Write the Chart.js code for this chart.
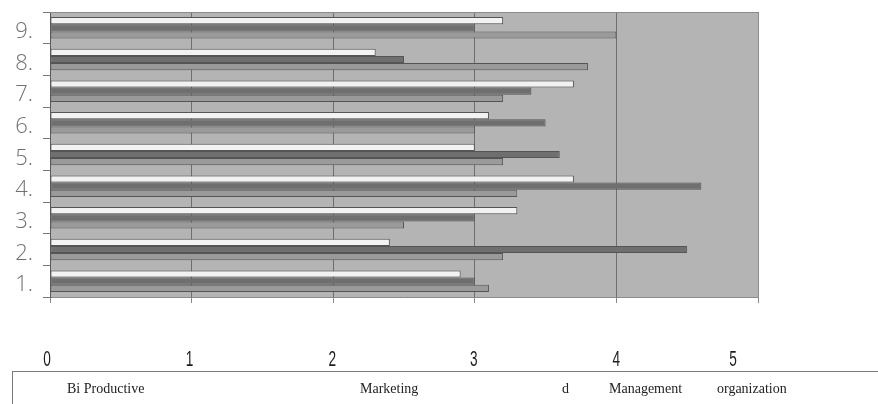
<!DOCTYPE html>
<html>
<head>
<meta charset="utf-8">
<script src="https://cdn.jsdelivr.net/npm/chart.js@4/dist/chart.umd.min.js"></script>
<style>
  html, body { margin: 0; padding: 0; background: #ffffff; }
  #wrap { width: 878px; height: 404px; position: relative; }
</style>
</head>
<body>
<div id="wrap"><canvas id="c" width="878" height="404"></canvas></div>
<script>
// Item numbers, bottom to top
const categories = ['1.', '2.', '3.', '4.', '5.', '6.', '7.', '8.', '9.'];

// Scores per item for each group
const productiveValues  = [2.9, 2.4, 3.3, 3.7, 3.0, 3.1, 3.7, 2.3, 3.2];
const marketingValues   = [3.0, 4.5, 3.0, 4.6, 3.6, 3.5, 3.4, 2.5, 3.0];
const managementValues  = [3.1, 3.2, 2.5, 3.3, 3.2, 3.0, 3.2, 3.8, 4.0];

// Value axis ticks
const xTickValues = [0, 1, 2, 3, 4, 5];
const xTickLabels = ['0', '1', '2', '3', '4', '5'];
const xTickNudge  = [-3, -2, -1, -1, 0, -25];

// Legend strip text
const legendTexts = ['Bi Productive', 'Marketing', 'd', 'Management', 'organization'];
const legendX = [67, 360, 562, 609, 717];

const plotFrame = {
  id: 'plotFrame',
  beforeDraw(chart) {
    const { ctx, chartArea: a } = chart;
    ctx.save();
    ctx.fillStyle = '#b4b4b4';
    ctx.fillRect(a.left, a.top, a.right - a.left, a.bottom - a.top);
    ctx.restore();
  },
  afterDraw(chart) {
    const { ctx, chartArea: a } = chart;
    ctx.save();
    ctx.strokeStyle = '#8c8c8c';
    ctx.lineWidth = 1;
    ctx.beginPath();
    ctx.moveTo(a.left, a.top + 0.5);
    ctx.lineTo(a.right + 0.5, a.top + 0.5);
    ctx.lineTo(a.right + 0.5, a.bottom);
    ctx.stroke();

    // condensed value-axis numerals
    const xs = chart.scales.x;
    ctx.fillStyle = '#1e1e1e';
    ctx.font = '22px "Liberation Sans", Arial, sans-serif';
    ctx.textAlign = 'center';
    ctx.textBaseline = 'middle';
    xTickValues.forEach((v, i) => {
      const px = xs.getPixelForValue(v) + xTickNudge[i];
      ctx.save();
      ctx.translate(px, 360);
      ctx.scale(0.62, 1);
      ctx.fillText(xTickLabels[i], 0, 0);
      ctx.restore();
    });

    // legend strip along the bottom
    ctx.strokeStyle = '#7a7a7a';
    ctx.strokeRect(12.5, 371.5, 900, 60);
    ctx.fillStyle = '#222222';
    ctx.font = '14px "Liberation Serif", "Times New Roman", serif';
    ctx.textBaseline = 'alphabetic';
    ctx.textAlign = 'left';
    legendTexts.forEach((t, i) => ctx.fillText(t, legendX[i], 393));
    ctx.restore();
  }
};

const barBorder = '#555555';

new Chart(document.getElementById('c'), {
  type: 'bar',
  data: {
    labels: categories,
    datasets: [
      { label: 'Productive', data: productiveValues, backgroundColor: '#f2f2f2',
        borderColor: barBorder, borderWidth: 1, borderSkipped: false },
      { label: 'Marketing', data: marketingValues, backgroundColor: '#6f6f6f',
        borderColor: barBorder, borderWidth: 1, borderSkipped: false },
      { label: 'Management organization', data: managementValues, backgroundColor: '#9a9a9a',
        borderColor: barBorder, borderWidth: 1, borderSkipped: false }
    ]
  },
  options: {
    indexAxis: 'y',
    responsive: false,
    animation: false,
    devicePixelRatio: 1,
    layout: { padding: { left: 0, top: 12, right: 120, bottom: 0 } },
    datasets: { bar: { categoryPercentage: 0.68, barPercentage: 1.0 } },
    plugins: { legend: { display: false }, tooltip: { enabled: false } },
    scales: {
      x: {
        min: 0, max: 5,
        afterFit(scale) { scale.height = 107; scale.paddingLeft = 0; scale.paddingRight = 0; },
        afterBuildTicks(scale) { scale.ticks = xTickValues.map(v => ({ value: v })); },
        grid: { color: '#6e6e6e', lineWidth: 1, drawTicks: true, tickLength: 6, tickColor: '#888888' },
        border: { display: true, color: '#8a8a8a' },
        ticks: { display: false }
      },
      y: {
        reverse: true,
        afterFit(scale) { scale.width = 50; scale.paddingTop = 0; scale.paddingBottom = 0; },
        grid: { drawOnChartArea: false, drawTicks: true, tickLength: 7, color: '#777777', offset: true },
        border: { display: true, color: '#5a5a5a' },
        ticks: {
          padding: 10,
          labelOffset: 4,
          color: '#707070',
          font: { family: '"Open Sans", sans-serif', size: 22, weight: '300' }
        }
      }
    }
  },
  plugins: [plotFrame]
});
</script>
</body>
</html>
